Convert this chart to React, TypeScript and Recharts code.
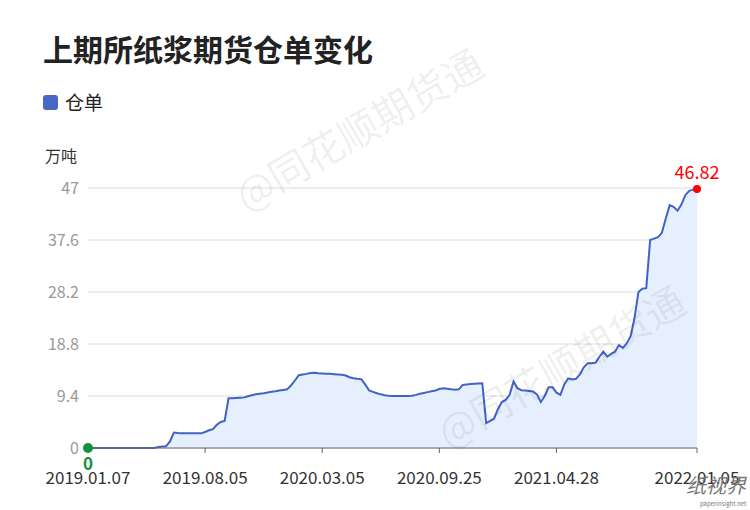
import React from "react";
import {
  AreaChart,
  Area,
  XAxis,
  YAxis,
  CartesianGrid,
  ReferenceDot,
} from "recharts";

// weekly warehouse receipts, 万吨, 2019.01.07 -> 2022.01.05
const values = [
  0, 0, 0, 0, 0, 0, 0, 0, 0, 0,
  0, 0, 0, 0, 0, 0, 0, 0, 0.2, 0.25,
  0.3, 1.2, 2.8, 2.7, 2.65, 2.65, 2.65, 2.65, 2.65, 2.65,
  2.9, 3.2, 3.4, 4.2, 4.7, 4.9, 9.0, 9.0, 9.05, 9.1,
  9.15, 9.35, 9.55, 9.7, 9.8, 9.9, 10.05, 10.15, 10.25, 10.4,
  10.5, 10.6, 11.3, 12.2, 13.15, 13.3, 13.4, 13.55, 13.6, 13.5,
  13.45, 13.4, 13.4, 13.35, 13.3, 13.25, 13.1, 12.8, 12.6, 12.5,
  12.45, 11.5, 10.4, 10.15, 9.9, 9.7, 9.55, 9.45, 9.4, 9.4,
  9.4, 9.4, 9.4, 9.45, 9.6, 9.8, 9.95, 10.1, 10.25, 10.4,
  10.65, 10.8, 10.7, 10.6, 10.55, 10.6, 11.4, 11.5, 11.55, 11.6,
  11.65, 11.7, 4.5, 4.9, 5.3, 7.0, 8.3, 8.7, 9.6, 12.0,
  10.8, 10.45, 10.4, 10.3, 10.2, 9.7, 8.3, 9.4, 11.0, 11.0,
  10.0, 9.6, 11.5, 12.6, 12.4, 12.5, 13.3, 14.6, 15.3, 15.3,
  15.4, 16.5, 17.4, 16.5, 17.0, 17.4, 18.6, 18.1, 18.9, 20.2,
  23.5, 28.2, 28.8, 28.9, 37.6, 37.85, 38.1, 38.9, 41.5, 43.9,
  43.6, 42.9, 44.0, 45.7, 46.5, 46.7, 46.82,
];

const tickIndex = [0, 30, 60, 90, 120, 156];
const tickLabels = [
  "2019.01.07",
  "2019.08.05",
  "2020.03.05",
  "2020.09.25",
  "2021.04.28",
  "2022.01.05",
];
const yTicks = [0, 9.4, 18.8, 28.2, 37.6, 47];

const data = values.map((v, i) => ({ i, v }));
const lastIdx = values.length - 1;

const FONT = '"Noto Sans CJK SC", "Noto Sans", sans-serif';

const watermark = (left: number, top: number) => (
  <div
    style={{
      position: "absolute",
      left,
      top,
      transform: "translate(-50%, -50%) rotate(-30deg)",
      fontSize: 40,
      color: "rgba(0,0,0,0.07)",
      whiteSpace: "nowrap",
      pointerEvents: "none",
    }}
  >
    @同花顺期货通
  </div>
);

export default function App() {
  return (
    <div
      style={{
        position: "absolute",
        left: 0,
        top: 0,
        width: 750,
        height: 510,
        background: "#fff",
        fontFamily: FONT,
        overflow: "hidden",
      }}
    >
      <div
        style={{
          position: "absolute",
          left: 43,
          top: 27,
          fontSize: 30,
          fontWeight: 700,
          color: "#222",
          lineHeight: "42px",
        }}
      >
        上期所纸浆期货仓单变化
      </div>
      <div style={{ position: "absolute", left: 43, top: 94, display: "flex", alignItems: "center" }}>
        <div style={{ width: 15, height: 15, borderRadius: 3, background: "#4a67c8" }} />
        <span style={{ marginLeft: 7, fontSize: 19, color: "#222", lineHeight: "16px" }}>仓单</span>
      </div>
      <div style={{ position: "absolute", left: 45, top: 144, fontSize: 16, color: "#333", lineHeight: "22px" }}>
        万吨
      </div>

      <div style={{ position: "absolute", left: 0, top: 0 }}>
        <AreaChart
          width={750}
          height={510}
          data={data}
          margin={{ top: 188, right: 53, bottom: 32, left: 28 }}
        >
          <CartesianGrid horizontal vertical={false} stroke="#dcdcdc" />
          <XAxis
            dataKey="i"
            type="number"
            domain={[0, lastIdx]}
            ticks={tickIndex}
            tickFormatter={(t) => tickLabels[tickIndex.indexOf(t)] ?? ""}
            height={30}
            axisLine={{ stroke: "#666" }}
            tickLine={{ stroke: "#666" }}
            tickSize={5}
            tickMargin={19}
            tick={{ fill: "#333", fontSize: 17, fontFamily: FONT }}
            interval={0}
          />
          <YAxis
            type="number"
            domain={[0, 47]}
            ticks={yTicks}
            width={60}
            axisLine={false}
            tickLine={false}
            tickSize={0}
            tickMargin={9}
            tick={{ fill: "#999", fontSize: 16, fontFamily: FONT }}
            interval={0}
          />
          <Area
            type="linear"
            dataKey="v"
            stroke="#4163c5"
            strokeWidth={2}
            fill="#e6effd"
            fillOpacity={1}
            dot={false}
            activeDot={false}
            isAnimationActive={false}
          />
          <ReferenceDot
            x={0}
            y={values[0]}
            r={5}
            fill="#13913b"
            stroke="none"
            label={{ value: String(values[0]), position: "bottom", fill: "#13913b", fontSize: 17, fontWeight: 700, offset: 5 }}
          />
          <ReferenceDot
            x={lastIdx}
            y={values[lastIdx]}
            r={4}
            fill="#f00"
            stroke="none"
            label={{ value: values[lastIdx].toFixed(2), position: "top", fill: "#f00", fontSize: 18, offset: 6 }}
          />
        </AreaChart>
      </div>

      {watermark(358, 128)}
      {watermark(560, 365)}

      <div style={{ position: "absolute", left: 686, top: 474, fontSize: 20, color: "#777", fontStyle: "italic", lineHeight: "22px" }}>
        纸视界
      </div>
      <div style={{ position: "absolute", left: 700, top: 500, fontSize: 6, color: "#777", lineHeight: "7px" }}>
        paperinsight.net
      </div>
    </div>
  );
}
